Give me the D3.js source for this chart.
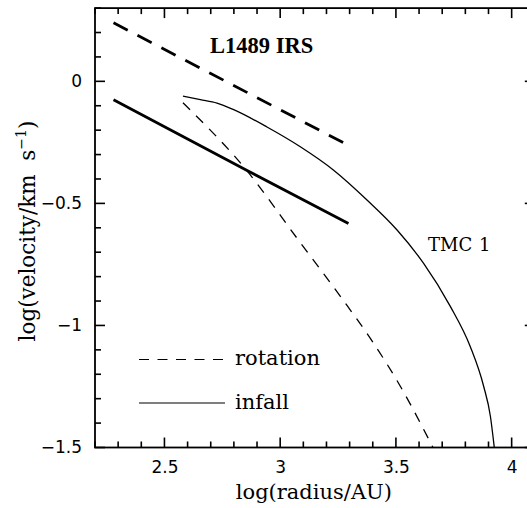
<!DOCTYPE html>
<html>
<head>
<meta charset="utf-8">
<script src="https://cdn.jsdelivr.net/npm/d3@7"></script>
<style>
  body { margin: 0; background: #fff; }
  svg { display: block; }
</style>
</head>
<body>
<div id="container"></div>
<script>
/* CONSTANTS AND GLOBALS */
const width = 527;
const height = 508;

/* DATA */
// L1489 IRS (thick lines)
const l1489RotX = [2.28, 3.28];
const l1489RotY = [0.24, -0.255];
const l1489InfX = [2.28, 2.857, 3.295];
const l1489InfY = [-0.075, -0.365, -0.582];

// TMC 1 (thin lines)
const tmcInfX = [2.580, 2.655, 2.727, 2.799, 2.943, 3.087, 3.231, 3.375, 3.505, 3.619, 3.735, 3.821, 3.879, 3.908, 3.925];
const tmcInfY = [-0.061, -0.075, -0.089, -0.116, -0.187, -0.268, -0.364, -0.486, -0.609, -0.745, -0.922, -1.086, -1.249, -1.371, -1.5];
const tmcRotX = [2.580, 2.857, 3.073, 3.260, 3.403, 3.519, 3.660];
const tmcRotY = [-0.088, -0.367, -0.643, -0.881, -1.072, -1.249, -1.5];

// ticks
const xMajor = [2.5, 3, 3.5, 4];
const yMajor = [0, -0.5, -1, -1.5];
const legendLabels = ["rotation", "infall"];

const zip = (xs, ys) => xs.map((x, i) => ({ x: x, y: ys[i] }));

/* SCALES */
const xScale = d3.scaleLinear().domain([2.2, 4.1]).range([95, 534.8]);
const yScale = d3.scaleLinear().domain([-1.5, 0.3]).range([447.5, 8.1]);

const svg = d3.select("#container")
  .append("svg")
  .attr("width", width)
  .attr("height", height);

const fmt = d => d3.format("")(d).replace("-", "\u2212");
const isMajor = (arr, t) => arr.some(m => Math.abs(m - t) < 1e-6);
const xTicksAll = xScale.ticks(19).map(t => ({ v: t, len: isMajor(xMajor, t) ? 10 : 6 }));
const yTicksAll = yScale.ticks(18).map(t => ({ v: t, len: isMajor(yMajor, t) ? 10 : 6 }));

const bottomY = yScale(-1.5), topY = yScale(0.3);
const leftX = xScale(2.2), rightX = xScale(4.1);

// tick labels through d3 axes
function addLabels(axisFn, transform, values) {
  const g = svg.append("g")
    .attr("transform", transform)
    .call(axisFn.tickValues(values).tickSize(0).tickPadding(13).tickFormat(fmt));
  g.select(".domain").remove();
  g.selectAll("line").remove();
  g.selectAll("text")
    .attr("fill", "#000")
    .style("font-family", "'DejaVu Sans', sans-serif")
    .style("font-size", "17px");
}
addLabels(d3.axisBottom(xScale), `translate(0,${bottomY})`, xMajor);
addLabels(d3.axisLeft(yScale), `translate(${leftX},0)`, yMajor);

// frame
svg.append("rect")
  .attr("x", leftX).attr("y", topY)
  .attr("width", rightX - leftX).attr("height", bottomY - topY)
  .attr("fill", "none").attr("stroke", "#000").attr("stroke-width", 1.8);

// tick marks, pointing inwards on all four sides
const tickG = svg.append("g").attr("stroke", "#000").attr("stroke-width", 1.6);
tickG.selectAll("line.xb").data(xTicksAll).join("line").attr("class", "xb")
  .attr("x1", d => xScale(d.v)).attr("x2", d => xScale(d.v))
  .attr("y1", bottomY).attr("y2", d => bottomY - d.len);
tickG.selectAll("line.xt").data(xTicksAll).join("line").attr("class", "xt")
  .attr("x1", d => xScale(d.v)).attr("x2", d => xScale(d.v))
  .attr("y1", topY).attr("y2", d => topY + d.len);
tickG.selectAll("line.yl").data(yTicksAll).join("line").attr("class", "yl")
  .attr("y1", d => yScale(d.v)).attr("y2", d => yScale(d.v))
  .attr("x1", leftX).attr("x2", d => leftX + d.len);
tickG.selectAll("line.yr").data(yTicksAll).join("line").attr("class", "yr")
  .attr("y1", d => yScale(d.v)).attr("y2", d => yScale(d.v))
  .attr("x1", rightX).attr("x2", d => rightX - d.len);

/* LINES */
const line = d3.line().x(d => xScale(d.x)).y(d => yScale(d.y));
const smooth = d3.line().x(d => xScale(d.x)).y(d => yScale(d.y)).curve(d3.curveMonotoneX);

const series = [
  { data: zip(l1489RotX, l1489RotY), gen: line, w: 2.8, dash: "16,11" },
  { data: zip(l1489InfX, l1489InfY), gen: line, w: 2.8, dash: null },
  { data: zip(tmcInfX, tmcInfY), gen: smooth, w: 1.3, dash: null },
  { data: zip(tmcRotX, tmcRotY), gen: smooth, w: 1.3, dash: "10,8.5" }
];
svg.selectAll("path.series")
  .data(series)
  .join("path")
  .attr("class", "series")
  .attr("d", d => d.gen(d.data))
  .attr("fill", "none")
  .attr("stroke", "#000")
  .attr("stroke-width", d => d.w)
  .attr("stroke-dasharray", d => d.dash);

/* TEXT */
const serif = "'DejaVu Serif', serif";
svg.append("text")
  .attr("x", 210).attr("y", 53.3)
  .style("font-family", "'Liberation Serif', serif")
  .style("font-weight", "bold")
  .style("font-size", "22.5px")
  .text("L1489 IRS");

svg.append("text").attr("x", 428).attr("y", 250.7)
  .style("font-family", serif).style("font-size", "18px").text("TMC");
svg.append("text").attr("x", 479).attr("y", 250.7)
  .style("font-family", serif).style("font-size", "18px").text("1");

// legend
const legendY = [359.5, 403];
const legendDash = ["10,8.5", null];
legendLabels.forEach((lab, i) => {
  svg.append("line")
    .attr("x1", 139).attr("x2", 225)
    .attr("y1", legendY[i]).attr("y2", legendY[i])
    .attr("stroke", "#000").attr("stroke-width", 1.2)
    .attr("stroke-dasharray", legendDash[i]);
  svg.append("text")
    .attr("x", 235).attr("y", legendY[i] + 5.5)
    .style("font-family", serif).style("font-size", "21px")
    .text(lab);
});

// axis titles
svg.append("text")
  .attr("x", (leftX + rightX) / 2 - 1).attr("y", 499)
  .attr("text-anchor", "middle")
  .style("font-family", serif).style("font-size", "21px")
  .text("log(radius/AU)");

const yt = svg.append("text")
  .attr("transform", `translate(35,231) rotate(-90)`)
  .attr("text-anchor", "middle")
  .style("font-family", serif).style("font-size", "21.5px");
yt.append("tspan").text("log(velocity/km\u00a0\u00a0s");
yt.append("tspan").attr("dy", -9).style("font-size", "14px").text("\u22121");
yt.append("tspan").attr("dy", 9).text(")");
</script>
</body>
</html>
